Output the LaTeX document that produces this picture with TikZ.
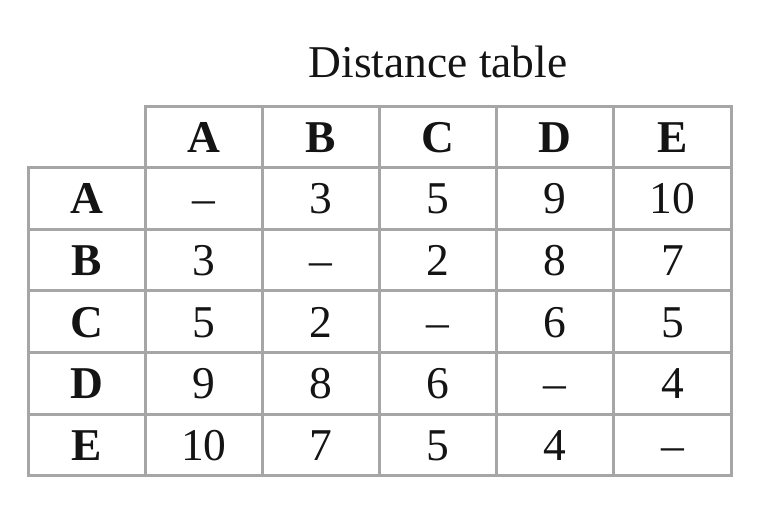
\documentclass[tikz,border=0pt]{standalone}
\usepackage{fontspec}
\setmainfont{Liberation Serif}
\definecolor{gridgray}{RGB}{166,166,166}
\definecolor{inkgray}{RGB}{20,20,20}
\begin{document}
\begin{tikzpicture}[x=1pt,y=-1pt,
  cell/.style={font=\fontsize{45.5}{54}\selectfont, text=inkgray, inner sep=0pt, anchor=base},
  hd/.style={cell, font=\fontsize{45.5}{54}\selectfont\bfseries},
  gridline/.style={draw=gridgray, line width=3pt, line cap=rect}]
\useasboundingbox (0,0) rectangle (764,504);
\node[cell] (title) at (438,77.7) {Distance table};
% grid
\draw[gridline] (145.5,106) -- (731,106);
\draw[gridline] (28,167.6) -- (28,475.7);
\foreach \k in {1,...,6} {
  \draw[gridline] (28,{106+61.6*\k}) -- (731,{106+61.6*\k});
  \draw[gridline] ({28+117.17*\k},106) -- ({28+117.17*\k},475.7);
}
% headers
\foreach \n [count=\i] in {A,B,C,D,E} {
  \node[hd] (col\n) at ({28+117.17*(\i+0.5)},{106+61.6*0.5+15.5}) {\n};
  \node[hd] (row\n) at (86.75,{106+61.6*(\i+0.5)+15.5}) {\n};
}
% data
\foreach \row [count=\r] in {{--,3,5,9,10},{3,--,2,8,7},{5,2,--,6,5},{9,8,6,--,4},{10,7,5,4,--}} {
  \foreach \v [count=\c] in \row {
    \node[cell] (cell-\r-\c) at ({28+117.17*(\c+0.5)},{106+61.6*(\r+0.5)+15.5}) {\v};
  }
}
\end{tikzpicture}
\end{document}
